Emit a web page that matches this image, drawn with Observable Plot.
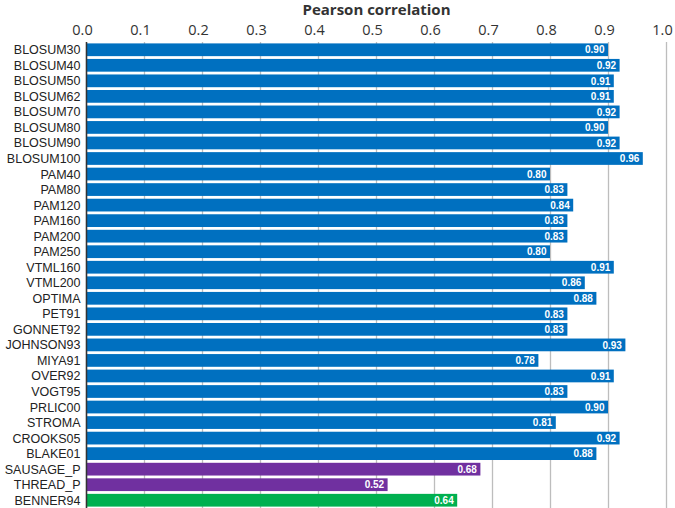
<!DOCTYPE html>
<html>
<head>
<meta charset="utf-8">
<script src="https://cdn.jsdelivr.net/npm/d3@7"></script>
<script src="https://cdn.jsdelivr.net/npm/@observablehq/plot@0.6"></script>
<style>
  body { margin: 0; background: #fff; }
  #chart svg { display: block; }
  g[aria-label="x-axis label"] text { font-weight: bold; font-family: "Open Sans", sans-serif; font-size: 15px; }
  g[aria-label="x-axis tick label"] text { font-family: "Open Sans", sans-serif; }
</style>
</head>
<body>
<div id="chart"></div>
<script>
const matrices = ["BLOSUM30","BLOSUM40","BLOSUM50","BLOSUM62","BLOSUM70","BLOSUM80","BLOSUM90","BLOSUM100",
  "PAM40","PAM80","PAM120","PAM160","PAM200","PAM250","VTML160","VTML200","OPTIMA","PET91","GONNET92",
  "JOHNSON93","MIYA91","OVER92","VOGT95","PRLIC00","STROMA","CROOKS05","BLAKE01","SAUSAGE_P","THREAD_P","BENNER94"];
const correlations = [0.90,0.92,0.91,0.91,0.92,0.90,0.92,0.96,
  0.80,0.83,0.84,0.83,0.83,0.80,0.91,0.86,0.88,0.83,0.83,
  0.93,0.78,0.91,0.83,0.90,0.81,0.92,0.88,0.68,0.52,0.64];
const groups = ["seq","seq","seq","seq","seq","seq","seq","seq",
  "seq","seq","seq","seq","seq","seq","seq","seq","seq","seq","seq",
  "seq","seq","seq","seq","seq","seq","seq","seq","struct","struct","benner"];
const groupDomain = ["seq","struct","benner"];
const groupColors = ["#0070C0","#7030A0","#00B050"];
const xTicks = [0,0.1,0.2,0.3,0.4,0.5,0.6,0.7,0.8,0.9,1.0];

const data = matrices.map((m, i) => ({name: m, value: correlations[i], group: groups[i]}));

const chart = Plot.plot({
  width: 675,
  height: 508,
  marginLeft: 86,
  marginRight: 9,
  marginTop: 42,
  marginBottom: 0,
  style: {fontFamily: "'Liberation Sans', Arial, sans-serif", background: "#fff"},
  x: {domain: [0, 1]},
  y: {domain: matrices, paddingInner: 0.18, paddingOuter: 0.09, round: false},
  color: {domain: groupDomain, range: groupColors},
  marks: [
    Plot.gridX(xTicks, {stroke: "#bdbdbd", strokeOpacity: 1, strokeWidth: 1.3}),
    Plot.axisX(xTicks, {anchor: "top", tickSize: 0, tickPadding: 8, dx: -4, tickFormat: d3.format(".1f"),
      fontSize: 14.5, fill: "#333", label: null}),
    Plot.axisX({anchor: "top", ticks: [], tickSize: 0, label: "Pearson correlation", labelAnchor: "center",
      labelArrow: "none", labelOffset: 38.5, fill: "#333"}),
    Plot.axisY({tickSize: 0, tickPadding: 6, fontSize: 12.5, fill: "#222", label: null}),
    Plot.barX(data, {y: "name", x: "value", fill: "group"}),
    Plot.ruleX([0], {stroke: "#333", strokeWidth: 1.5}),
    Plot.text(data, {y: "name", x: "value", text: d => d3.format(".2f")(d.value), textAnchor: "end", dx: -4,
      fill: "white", fontSize: 10, fontWeight: "bold"})
  ]
});
document.getElementById("chart").appendChild(chart);
</script>
</body>
</html>
